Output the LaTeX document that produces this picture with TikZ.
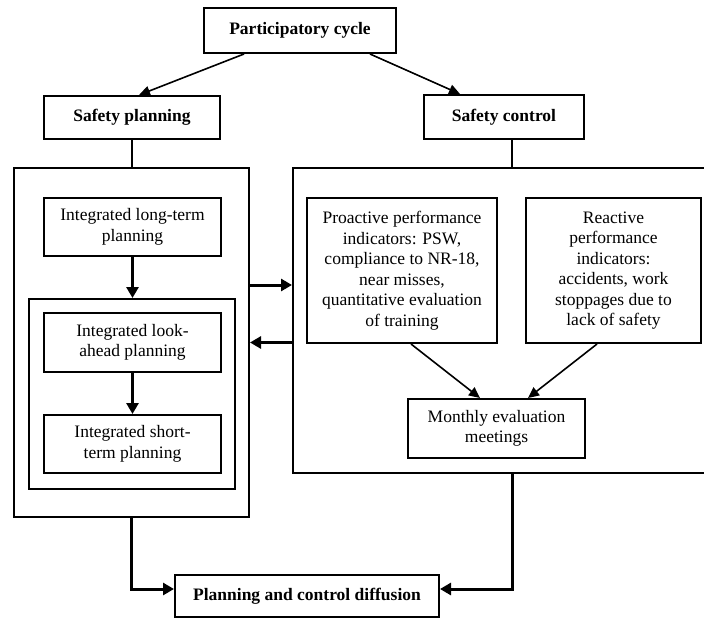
\documentclass[tikz,border=0pt]{standalone}
\usepackage{fontspec}
\setmainfont{Liberation Serif}
\usetikzlibrary{arrows.meta,calc}
\begin{document}
\begin{tikzpicture}[x=1pt,y=-1pt,
  box/.style={draw,line width=2pt,inner sep=0pt,align=center,
    font=\fontsize{17.5}{20.5}\selectfont},
  tbox/.style={box,font=\bfseries\fontsize{17.5}{20.5}\selectfont},
  frame/.style={draw,line width=2pt,inner sep=0pt},
  thickarr/.style={line width=3pt,-{Triangle[length=11pt,width=12pt]}},
  thinarr/.style={line width=1.6pt,-{Triangle[length=11pt,width=10pt]}},
  plain/.style={line width=2.5pt}]
\useasboundingbox (0,0) rectangle (704,618);
% top titles
\node[tbox,minimum width=192pt,minimum height=45pt] (pc) at (300,30.5) {Participatory cycle};
\node[tbox,minimum width=176pt,minimum height=43pt] (sp) at (132,117.5) {Safety planning};
\node[tbox,minimum width=160pt,minimum height=44pt] (sc) at (504,117) {Safety control};
% big frames
\node[frame,minimum width=235pt,minimum height=349pt] (L) at (131.5,342.5) {};
\node[frame,minimum width=447pt,minimum height=305pt] (R) at (516.5,320.5) {};
\node[frame,minimum width=206pt,minimum height=190pt] (I) at (132,394) {};
% left inner boxes
\node[box,minimum width=177pt,minimum height=58pt] (lt) at (132.5,227) {Integrated long-term\\planning};
\node[box,minimum width=177pt,minimum height=59pt] (la) at (132.5,342.5) {Integrated look-\\ahead planning};
\node[box,minimum width=177pt,minimum height=58pt] (st) at (132.5,444) {Integrated short-\\term planning};
% right inner boxes
\node[box,minimum width=190pt,minimum height=145pt] (pro) at (402,270.5) {Proactive performance\\indicators: PSW,\\compliance to NR-18,\\near misses,\\quantitative evaluation\\of training};
\node[box,minimum width=175pt,minimum height=145pt] (rea) at (613.5,270.5) {Reactive\\performance\\indicators:\\accidents, work\\stoppages due to\\lack of safety};
\node[box,minimum width=177pt,minimum height=59pt] (mon) at (496.5,428.5) {Monthly evaluation\\meetings};
% bottom
\node[tbox,minimum width=264pt,minimum height=42pt] (dif) at (307,596) {Planning and control diffusion};
% connectors
\draw[thinarr] ([xshift=41pt]pc.south west) -- ([xshift=7pt]sp.north);
\draw[thinarr] ([xshift=-27pt]pc.south east) -- ([xshift=-44pt]sc.north);
\draw[plain] (sp.south) -- (sp.south |- L.north);
\draw[plain] ([xshift=8pt]sc.south) -- ([xshift=8pt]sc.south |- R.north);
\draw[thickarr] (lt.south) -- (lt.south |- I.north);
\draw[thickarr] (la.south) -- (st.north);
\draw[thickarr] ([yshift=57.5pt]L.east) -- ([yshift=57.5pt]L.east -| R.west);
\draw[thickarr] (R.west |- L.east) -- (L.east);
\draw[thinarr] ([xshift=9pt]pro.south) -- ([xshift=-16.5pt]mon.north);
\draw[thinarr] ([xshift=-16.5pt]rea.south) -- ([xshift=31.5pt]mon.north);
\draw[thickarr] (L.south) |- ([yshift=7pt]dif.west);
\draw[thickarr] ([xshift=-4.5pt]R.south) |- ([yshift=7pt]dif.east);
\end{tikzpicture}
\end{document}
